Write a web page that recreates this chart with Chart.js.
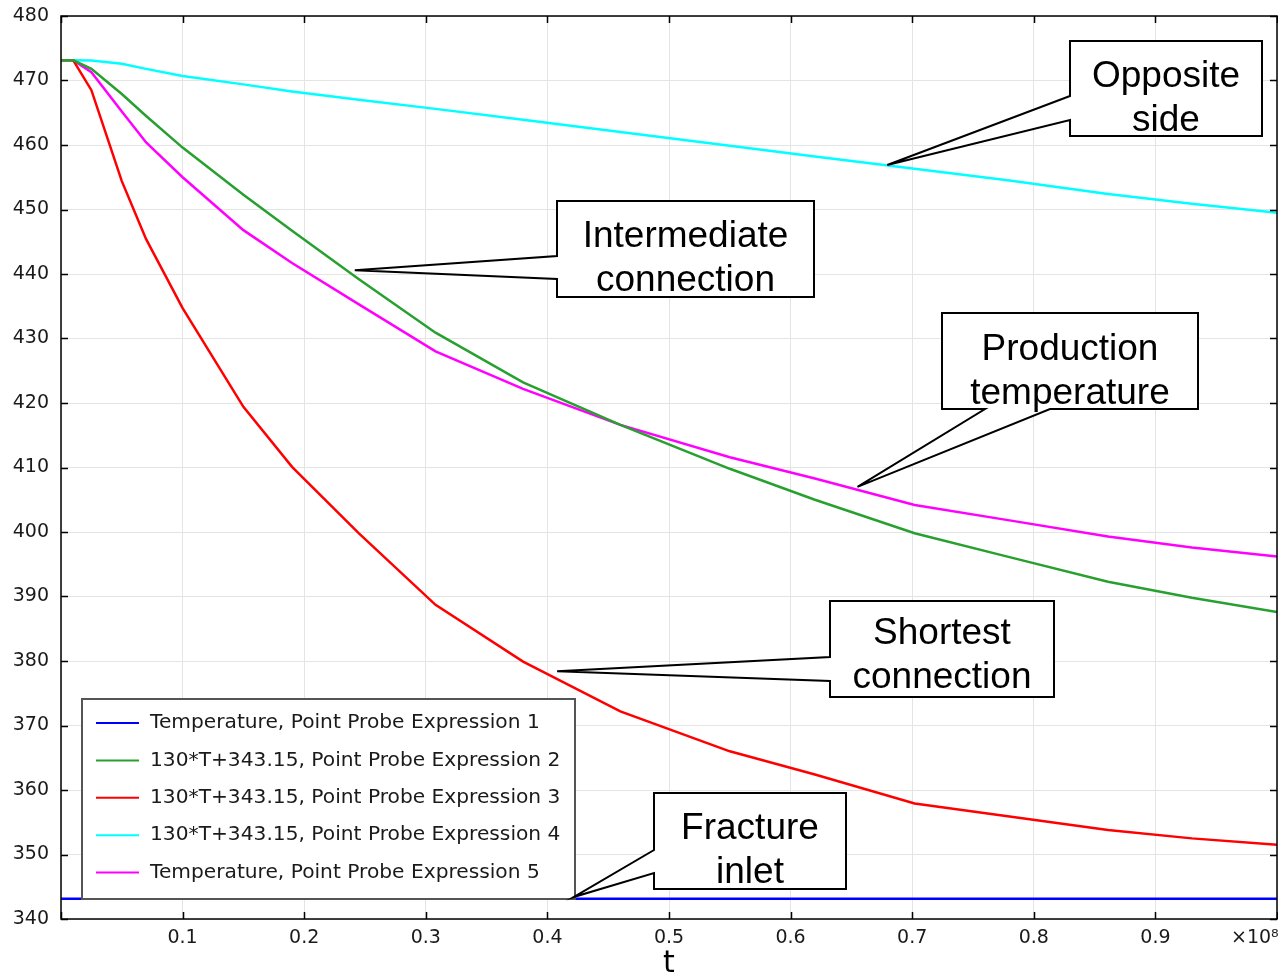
<!DOCTYPE html>
<html><head><meta charset="utf-8">
<script src="https://cdn.jsdelivr.net/npm/chart.js@4.4.1/dist/chart.umd.min.js"></script>
<style>html,body{margin:0;padding:0;background:#fff;}#wrap{width:1278px;height:979px;position:relative;}</style>
</head><body><div id="wrap"><canvas id="c" width="1278" height="979"></canvas></div>
<script>
// ---- data (t in units of 1e8 s, temperature in K) ----
const times  = [0, 0.01, 0.025, 0.05, 0.07, 0.1, 0.15, 0.19, 0.245, 0.308, 0.38, 0.46, 0.55, 0.62, 0.702, 0.78, 0.861, 0.93, 1.0];
const probe1 = [343.15,343.15,343.15,343.15,343.15,343.15,343.15,343.15,343.15,343.15,343.15,343.15,343.15,343.15,343.15,343.15,343.15,343.15,343.15];
const probe2 = [473.15,473.15,471.8,467.9,464.5,459.6,452.3,446.7,439.2,430.9,423.2,416.6,409.8,405.0,399.8,396.1,392.3,389.8,387.6];
const probe3 = [473.15,473.15,468.5,454.4,445.4,434.7,419.4,410.1,399.8,388.7,379.9,372.2,366.0,362.4,357.9,355.9,353.8,352.5,351.5];
const probe4 = [473.15,473.15,473.1,472.6,471.8,470.7,469.4,468.3,467.0,465.6,463.9,462.0,459.9,458.2,456.3,454.5,452.4,450.9,449.5];
const probe5 = [473.15,473.15,471.3,465.2,460.4,455.0,446.8,441.7,435.3,428.0,422.2,416.6,411.6,408.3,404.2,401.8,399.3,397.6,396.2];
const seriesNames = [
  'Temperature, Point Probe Expression 1',
  '130*T+343.15, Point Probe Expression 2',
  '130*T+343.15, Point Probe Expression 3',
  '130*T+343.15, Point Probe Expression 4',
  'Temperature, Point Probe Expression 5'
];
const seriesColors = ['#0000ff', '#28a030', '#ff0000', '#00ffff', '#ff00ff'];
const yTickValues = [340,350,360,370,380,390,400,410,420,430,440,450,460,470,480];
const xTickLabels = ['0.1','0.2','0.3','0.4','0.5','0.6','0.7','0.8','0.9'];
const xMultiplier = '\u00d710\u2078';
const xTitle = 't';
// callout annotations: text lines and the data point each one points at
const calloutTexts = [['Opposite','side'],['Intermediate','connection'],['Production','temperature'],['Shortest','connection'],['Fracture','inlet']];
const calloutTipT  = [0.6795, 0.2416, 0.655, 0.408, 0.4215];
const calloutTipV  = [456.9, 440.6, 407.0, 378.4, 343.4];

// ---- layout of the callout boxes (pixels) ----
const calloutBoxes = [
  {l:1070,t:41,r:1262,b:136, side:'left', w1:96, w2:120, base:87},
  {l:557,t:201,r:814,b:297, side:'left', w1:256, w2:279, base:247},
  {l:942,t:313,r:1198,b:409, side:'bottom', w1:985, w2:1050, base:360},
  {l:830,t:601,r:1054,b:697, side:'left', w1:657, w2:681, base:644},
  {l:654,t:793,r:846,b:889, side:'left', w1:850, w2:873, base:839}
];

const seriesVals = [probe1, probe2, probe3, probe4, probe5];
const datasets = seriesVals.map((vals,i)=>({
  label: seriesNames[i],
  data: times.map((t,k)=>({x:t, y:vals[k]})),
  borderColor: seriesColors[i],
  backgroundColor: seriesColors[i],
  borderWidth: 2.5,
  pointRadius: 0,
  tension: 0,
  fill: false
}));

const deco = {
  id: 'deco',
  afterDatasetsDraw(chart){
    const {ctx, chartArea:a, scales:{x, y}} = chart;
    ctx.save();
    // frame
    ctx.strokeStyle = '#000'; ctx.lineWidth = 1.5;
    ctx.strokeRect(a.left, a.top, a.right - a.left, a.bottom - a.top);
    // inward ticks
    ctx.beginPath();
    x.ticks.forEach(tk=>{
      const px = Math.round(x.getPixelForValue(tk.value)) + 0.5;
      ctx.moveTo(px, a.bottom); ctx.lineTo(px, a.bottom - 7);
      ctx.moveTo(px, a.top); ctx.lineTo(px, a.top + 7);
    });
    y.ticks.forEach(tk=>{
      const py = Math.round(y.getPixelForValue(tk.value)) + 0.5;
      ctx.moveTo(a.left, py); ctx.lineTo(a.left + 7, py);
      ctx.moveTo(a.right, py); ctx.lineTo(a.right - 7, py);
    });
    ctx.stroke();
    // multiplier label
    ctx.fillStyle = '#1a1a1a';
    ctx.font = '19px "DejaVu Sans"';
    ctx.textAlign = 'left'; ctx.textBaseline = 'middle';
    ctx.fillText(xMultiplier, 1231, 938);

    // legend
    const L = {l:82, t:699, r:575, b:899};
    ctx.fillStyle = '#fff';
    ctx.fillRect(L.l, L.t, L.r - L.l, L.b - L.t);
    ctx.strokeStyle = '#555'; ctx.lineWidth = 2;
    ctx.strokeRect(L.l, L.t, L.r - L.l, L.b - L.t);
    ctx.font = '20.2px "DejaVu Sans"';
    ctx.textBaseline = 'middle';
    seriesNames.forEach((nm,i)=>{
      const yy = 723 + i*37.4;
      ctx.strokeStyle = seriesColors[i]; ctx.lineWidth = 2;
      ctx.beginPath(); ctx.moveTo(96, yy); ctx.lineTo(139, yy); ctx.stroke();
      ctx.fillStyle = '#1a1a1a';
      ctx.fillText(nm, 150, yy);
    });

    // callouts
    calloutBoxes.forEach((B,i)=>{
      const tx = x.getPixelForValue(calloutTipT[i]);
      const ty = y.getPixelForValue(calloutTipV[i]);
      ctx.beginPath();
      if (B.side === 'left'){
        ctx.moveTo(B.l, B.t); ctx.lineTo(B.r, B.t); ctx.lineTo(B.r, B.b); ctx.lineTo(B.l, B.b);
        ctx.lineTo(B.l, B.w2); ctx.lineTo(tx, ty); ctx.lineTo(B.l, B.w1);
      } else {
        ctx.moveTo(B.l, B.t); ctx.lineTo(B.r, B.t); ctx.lineTo(B.r, B.b);
        ctx.lineTo(B.w2, B.b); ctx.lineTo(tx, ty); ctx.lineTo(B.w1, B.b); ctx.lineTo(B.l, B.b);
      }
      ctx.closePath();
      ctx.fillStyle = '#fff'; ctx.fill();
      ctx.strokeStyle = '#000'; ctx.lineWidth = 2; ctx.lineJoin = 'miter';
      ctx.stroke();
      ctx.fillStyle = '#000';
      ctx.font = '37px "Liberation Sans", Arial, sans-serif';
      ctx.textAlign = 'center'; ctx.textBaseline = 'alphabetic';
      const cx = (B.l + B.r)/2;
      calloutTexts[i].forEach((ln,k)=> ctx.fillText(ln, cx, B.base + k*44));
    });
    ctx.restore();
  }
};

new Chart(document.getElementById('c'), {
  type: 'line',
  data: { datasets },
  options: {
    responsive: false,
    animation: false,
    events: [],
    layout: { padding: { top: 16, right: 1, left: 0, bottom: 0 } },
    plugins: { legend: { display: false }, tooltip: { enabled: false }, title: { display: false } },
    scales: {
      x: {
        type: 'linear', min: 0, max: 1,
        afterFit(s){ s.height = 60; s.paddingLeft = 0; s.paddingRight = 0; },
        afterBuildTicks(s){ s.ticks = [0].concat(xTickLabels.map(Number)).concat([1]).map(v=>({value:v})); },
        ticks: {
          padding: 8, maxRotation: 0, autoSkip: false,
          color: '#1a1a1a', font: { family: 'DejaVu Sans', size: 19 },
          callback(v){ const s = (Math.round(v*10)/10).toFixed(1); return xTickLabels.includes(s) ? s : ''; }
        },
        grid: { color: '#e4e4e4', lineWidth: 1, drawTicks: false },
        border: { display: false },
        title: { display: true, text: xTitle, color: '#000', font: { family: 'DejaVu Sans', size: 30, lineHeight: 1.0 }, padding: { top: 0, bottom: 0 } }
      },
      y: {
        type: 'linear', min: 340, max: 480,
        afterFit(s){ s.width = 61; s.paddingTop = 0; s.paddingBottom = 0; },
        afterBuildTicks(s){ s.ticks = yTickValues.map(v=>({value:v})); },
        ticks: { padding: 12, color: '#1a1a1a', font: { family: 'DejaVu Sans', size: 19 } },
        grid: { color: '#e4e4e4', lineWidth: 1, drawTicks: false },
        border: { display: false }
      }
    }
  },
  plugins: [deco]
});
</script>
</body></html>
